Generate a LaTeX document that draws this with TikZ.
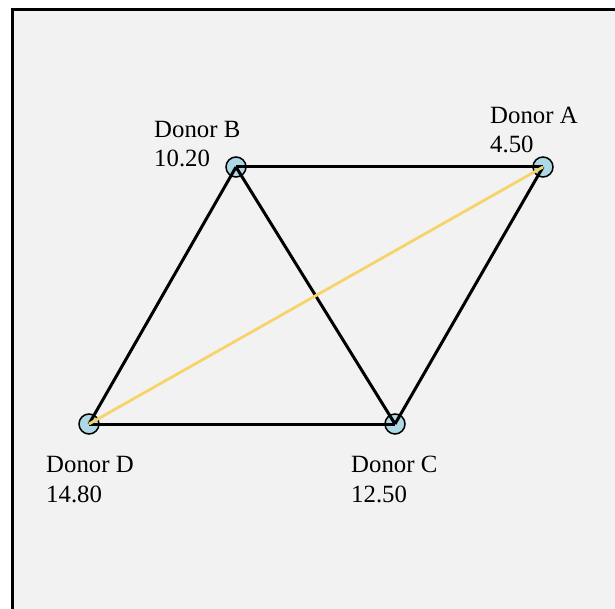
\documentclass[tikz,border=0pt]{standalone}
\usepackage{fontspec}
\setmainfont{Liberation Serif}
\definecolor{panelbg}{HTML}{F2F2F2}
\definecolor{donorfill}{HTML}{ADD8E6}
\definecolor{goldline}{HTML}{F7D46A}
\tikzset{
  donor/.style={circle, draw=black, line width=1.5pt, fill=donorfill, minimum size=20pt, inner sep=0pt},
  link/.style={draw=black, line width=3pt},
  hilite/.style={draw=goldline, line width=2.8pt},
  lbl/.style={font=\fontsize{24.8}{29.5}\selectfont, align=left, inner sep=0pt, anchor=base west},
}
\begin{document}
\begin{tikzpicture}[x=1pt,y=-1pt]
\useasboundingbox (0,0) rectangle (615,609);
\fill[white] (0,0) rectangle (615,609);
\begin{scope}
\clip (0,0) rectangle (615,609);
\draw[fill=panelbg, line width=3pt] (12,10) rectangle (660,660);
\end{scope}
\node[donor] (A) at (543,167) {};
\node[donor] (B) at (236,167) {};
\node[donor] (C) at (395,424) {};
\node[donor] (D) at (89,424) {};
\draw[link] (B.center) -- (A.center);
\draw[link] (B.center) -- (D.center);
\draw[link] (B.center) -- (C.center);
\draw[link] (A.center) -- (C.center);
\draw[link] (D.center) -- (C.center);
\draw[hilite] (D.center) -- (A.center);
\node[lbl] (lA) at (490,153) {Donor A\\4.50};
\node[lbl] (lB) at (154,167) {Donor B\\10.20};
\node[lbl] (lC) at (351,502) {Donor C\\12.50};
\node[lbl] (lD) at (46,502) {Donor D\\14.80};
\end{tikzpicture}
\end{document}
